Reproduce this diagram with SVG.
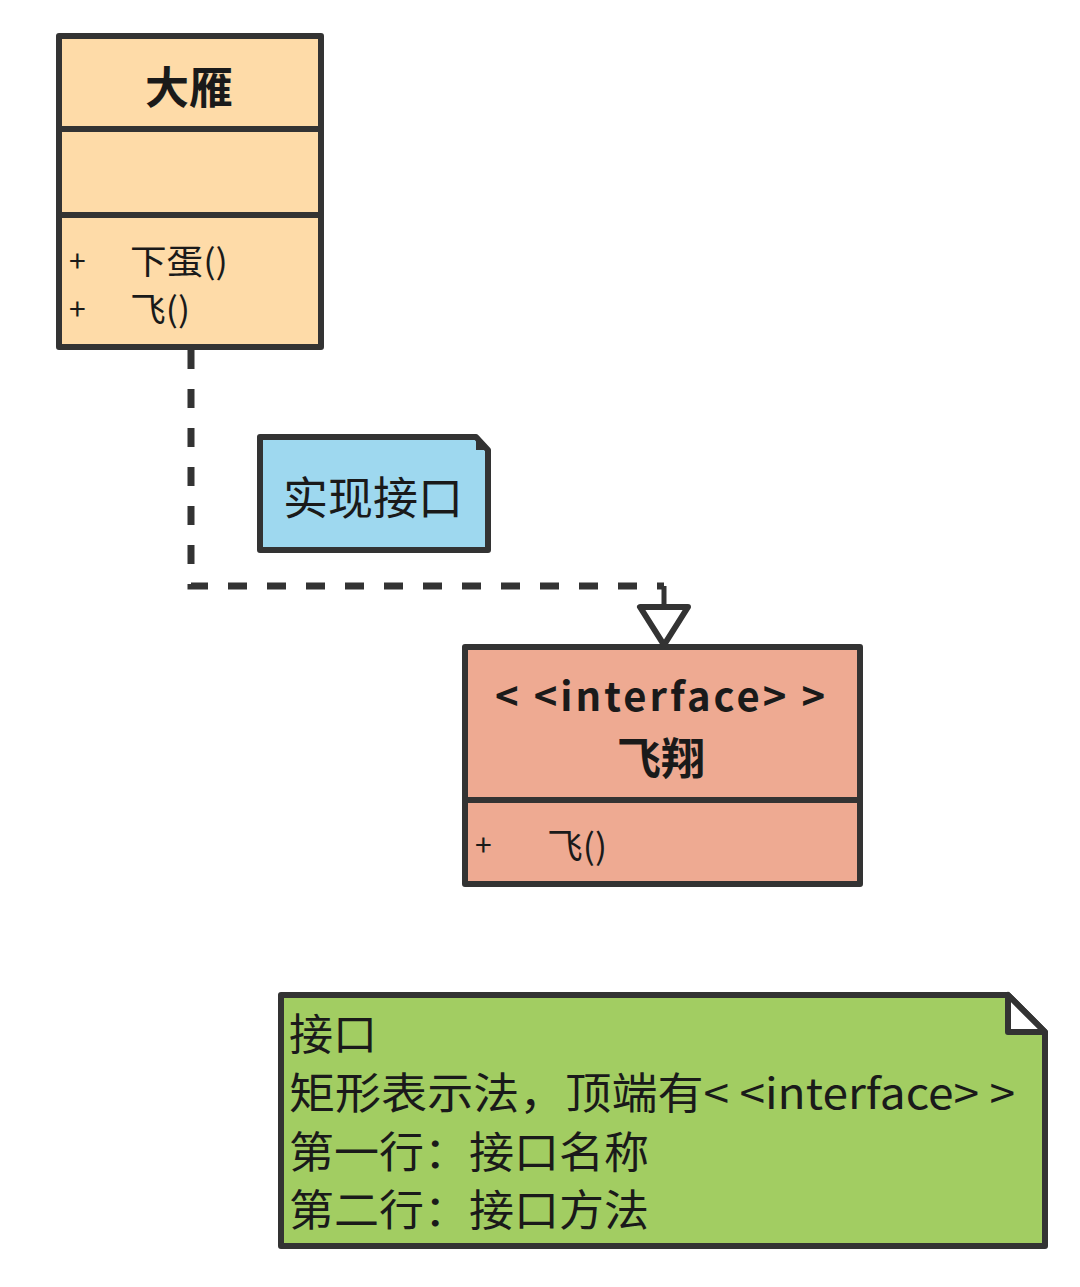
<svg xmlns="http://www.w3.org/2000/svg" width="1080" height="1287" viewBox="0 0 1080 1287">
<style>
.box{stroke:#333;stroke-width:6;stroke-linejoin:round}
.div{stroke:#333;stroke-width:6;fill:none}
.t{font-family:"Noto Sans CJK SC","Noto Sans",sans-serif;fill:#1a1a1a}
.b{font-weight:bold}
.conn{stroke:#333;stroke-width:7;fill:none}
</style>
<rect width="1080" height="1287" fill="#ffffff"/>
<g id="class-dayan">
<rect class="box" x="59" y="36" width="262" height="311" fill="#FEDBA8"/>
<line class="div" x1="56" y1="129" x2="324" y2="129"/>
<line class="div" x1="56" y1="215" x2="324" y2="215"/>
<text class="t b" x="189" y="104" font-size="44" text-anchor="middle">大雁</text>
<text class="t" x="69" y="272" font-size="30">+</text>
<text class="t" x="130" y="274" font-size="34" textLength="98" lengthAdjust="spacingAndGlyphs">下蛋()</text>
<text class="t" x="69" y="320" font-size="30">+</text>
<text class="t" x="130" y="322" font-size="34" textLength="60" lengthAdjust="spacingAndGlyphs">飞()</text>
</g>
<g id="note-impl">
<path class="box" d="M260,437 H476 L488,450 V550 H260 Z" fill="#9ED8EF"/>
<path d="M476,437 V450 H488 Z" fill="#333"/>
<text class="t" x="373" y="515" font-size="45" text-anchor="middle">实现接口</text>
</g>
<g id="interface-feixiang">
<rect class="box" x="465" y="647" width="395" height="237" fill="#EEAA92"/>
<line class="div" x1="462" y1="800" x2="863" y2="800"/>
<text class="t b" x="495" y="711" font-size="40" textLength="330" lengthAdjust="spacing">&lt; &lt;interface&gt; &gt;</text>
<text class="t b" x="661" y="775" font-size="44" text-anchor="middle">飞翔</text>
<text class="t" x="475" y="856" font-size="30">+</text>
<text class="t" x="547" y="859" font-size="35" textLength="60" lengthAdjust="spacingAndGlyphs">飞()</text>
</g>
<g id="note-desc">
<path class="box" d="M281,995 H1008 L1045,1032 V1246 H281 Z" fill="#A2CD62"/>
<path d="M1008,995 V1032 H1045 Z" fill="#ffffff" stroke="#333" stroke-width="6" stroke-linejoin="round"/>
<text class="t" font-size="43">
<tspan x="289" y="1050" textLength="88" lengthAdjust="spacingAndGlyphs">接口</tspan>
<tspan x="289" y="1109" textLength="726" lengthAdjust="spacingAndGlyphs">矩形表示法，顶端有&lt; &lt;interface&gt; &gt;</tspan>
<tspan x="289" y="1168" textLength="360" lengthAdjust="spacingAndGlyphs">第一行：接口名称</tspan>
<tspan x="289" y="1226" textLength="360" lengthAdjust="spacingAndGlyphs">第二行：接口方法</tspan>
</text>
</g>
<g id="connectors">
<path class="conn" d="M191,350 V586 H664" stroke-dasharray="19 20"/>
<line x1="664" y1="586" x2="664" y2="606" stroke="#333" stroke-width="5"/>
<path d="M640,607 H688 L664,645 Z" fill="#ffffff" stroke="#333" stroke-width="6" stroke-linejoin="round"/>
</g>
</svg>
